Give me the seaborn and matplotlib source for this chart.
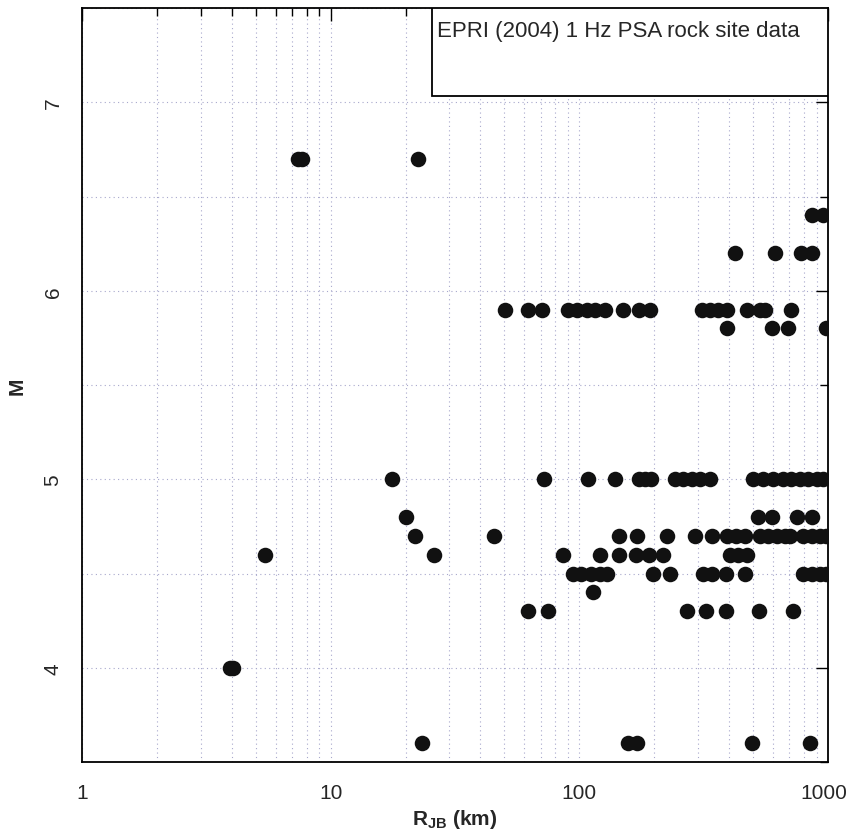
import matplotlib
matplotlib.use("Agg")
import matplotlib.pyplot as plt
import matplotlib.ticker as mticker
import matplotlib.transforms as mtransforms
from matplotlib.patches import Rectangle
import seaborn as sns
import pandas as pd

# Data: distance (km) per magnitude row
mag_rows = [6.7, 6.4, 6.2, 5.9, 5.8, 5.0, 4.8, 4.7, 4.6, 4.5, 4.4, 4.3, 4.0, 3.6]
r_m67 = [7.4, 7.7, 22.4]
r_m64 = [862, 958]
r_m62 = [421, 614, 780, 862]
r_m59 = [50.2, 62.4, 70.5, 90.2, 97.5, 107, 116, 127, 150, 173, 192,
         310, 335, 362, 391, 471, 532, 556, 713]
r_m58 = [391, 593, 692, 986]
r_m50 = [17.6, 72.3, 108, 139, 173, 184, 195, 242, 262, 283, 305, 335,
         500, 549, 603, 661, 713, 771, 832, 899, 957]
r_m48 = [20.1, 524, 598, 748, 859]
r_m47 = [21.8, 45.5, 145, 171, 225, 292, 342, 391, 426, 463,
         532, 575, 621, 671, 703, 795, 859, 928, 986]
r_m46 = [5.44, 26.1, 85.7, 121, 145, 169, 191, 217, 403, 435, 471]
r_m45 = [94, 102, 111, 121, 129, 198, 231, 313, 343, 388, 463, 795, 859, 928, 986]
r_m44 = [113]
r_m43 = [62.3, 75, 270, 323, 388, 529, 720]
r_m40 = [3.95, 4.05]
r_m36 = [23.4, 157, 171, 497, 850]
r_lists = [r_m67, r_m64, r_m62, r_m59, r_m58, r_m50, r_m48, r_m47,
           r_m46, r_m45, r_m44, r_m43, r_m40, r_m36]

x_ticks = [1, 10, 100, 1000]
x_tick_labels = ["1", "10", "100", "1000"]
y_ticks = [4, 5, 6, 7]
legend_text = "EPRI (2004) 1 Hz PSA rock site data"

rows = []
for m, rs in zip(mag_rows, r_lists):
    for r in rs:
        rows.append({"RJB": r, "M": m})
df = pd.DataFrame(rows)

sns.set_style("white")
plt.rcParams["font.family"] = ["Liberation Sans", "DejaVu Sans"]

fig = plt.figure(figsize=(8.49, 8.37), dpi=100)
ax = fig.add_axes([82 / 849, 1 - 763 / 837, 746 / 849, 754 / 837])

ax.set_xscale("log")
ax.set_xlim(1, 1000)
ax.set_ylim(3.5, 7.5)

sns.scatterplot(data=df, x="RJB", y="M", ax=ax, s=125, color="#111111",
                edgecolor="#111111", linewidth=0, zorder=3, legend=False)

# ticks
ax.xaxis.set_major_locator(mticker.FixedLocator(x_ticks))
ax.xaxis.set_major_formatter(mticker.FixedFormatter(x_tick_labels))
ax.xaxis.set_minor_locator(mticker.LogLocator(base=10, subs=range(2, 10), numticks=20))
ax.xaxis.set_minor_formatter(mticker.NullFormatter())
ax.yaxis.set_major_locator(mticker.FixedLocator(y_ticks))
ax.yaxis.set_minor_locator(mticker.MultipleLocator(0.5))

ax.tick_params(axis="both", which="both", direction="in", top=True, right=True,
               color="black", width=1.0)
ax.tick_params(axis="x", which="major", length=9, labelsize=15, pad=15)
ax.tick_params(axis="x", which="minor", length=6)
ax.tick_params(axis="y", which="major", length=9, labelsize=15, pad=14)
ax.tick_params(axis="y", which="minor", length=6)
for lab in ax.get_yticklabels():
    lab.set_rotation(90)
    lab.set_va("center")

# keep the last x tick label inside the figure
fig.canvas.draw()
xlabs = ax.get_xticklabels()
last = xlabs[-1]
last.set_transform(last.get_transform() +
                   mtransforms.ScaledTranslation(-4 / 100, 0, fig.dpi_scale_trans))

# grid
ax.grid(True, which="both", axis="both", linestyle=(0, (1, 3)),
        color="#a8a8cc", linewidth=0.8, zorder=0)
ax.set_axisbelow(True)

for sp in ax.spines.values():
    sp.set_color("black")
    sp.set_linewidth(1.3)

ax.set_xlabel(r"R$_{\mathregular{JB}}$ (km)", fontsize=15, fontweight="bold", labelpad=4)
ax.set_ylabel("M", fontsize=15, fontweight="bold", labelpad=12)

# legend box
ax.add_patch(Rectangle((350 / 746, 1 - 88 / 754), 396 / 746, 88 / 754,
                       transform=ax.transAxes, facecolor="white",
                       edgecolor="black", linewidth=1.3, zorder=5))
ax.text(355 / 746, 1 - 22 / 754, legend_text, transform=ax.transAxes,
        fontsize=16, va="center", ha="left", zorder=6)

fig.savefig("out.png", dpi=100)
